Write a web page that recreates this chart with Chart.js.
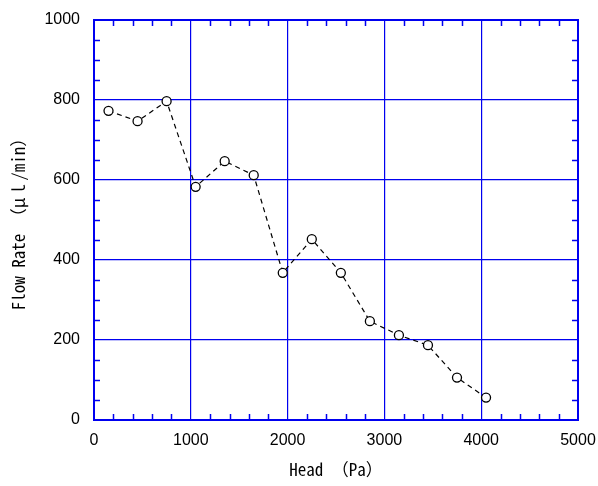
<!DOCTYPE html>
<html>
<head>
<meta charset="utf-8">
<script src="https://cdn.jsdelivr.net/npm/chart.js@4/dist/chart.umd.min.js"></script>
<style>
html,body{margin:0;padding:0;background:#fff;}
#wrap{width:598px;height:486px;position:relative;}
</style>
</head>
<body>
<div id="wrap"><canvas id="c" width="598" height="486"></canvas></div>
<script>
const headPa = [150, 450, 750, 1050, 1350, 1650, 1950, 2250, 2550, 2850, 3150, 3450, 3750, 4050];
const flowRate = [773, 747, 797, 583, 647, 612, 368, 452, 368, 247, 212, 187, 106, 56];
const xTicks = [0, 1000, 2000, 3000, 4000, 5000];
const yTicks = [0, 200, 400, 600, 800, 1000];
const xTitle = 'Head （Pa）';
const yTitle = 'Flow Rate （μｌ/min）';

const BLUE = '#0000f0';
const tickFont = {family: "'Liberation Sans', Arial, sans-serif", size: 16};
const titleFont = {family: "'Noto Sans Mono CJK JP', 'DejaVu Sans Mono', monospace", size: 17};

const frameAndMinor = {
  id: 'frameAndMinor',
  afterDraw(chart) {
    const {ctx, chartArea: a, scales: {x, y}} = chart;
    ctx.save();
    ctx.strokeStyle = BLUE;
    ctx.lineWidth = 1.5;
    ctx.beginPath();
    for (let v = 200; v < 5000; v += 200) {
      if (v % 1000 === 0) continue;
      const px = Math.round(x.getPixelForValue(v)) + 0.5;
      ctx.moveTo(px, a.bottom); ctx.lineTo(px, a.bottom - 6);
      ctx.moveTo(px, a.top); ctx.lineTo(px, a.top + 6);
    }
    for (let v = 50; v < 1000; v += 50) {
      if (v % 200 === 0) continue;
      const py = Math.round(y.getPixelForValue(v)) + 0.5;
      ctx.moveTo(a.left, py); ctx.lineTo(a.left + 6, py);
      ctx.moveTo(a.right, py); ctx.lineTo(a.right - 6, py);
    }
    ctx.stroke();
    ctx.lineWidth = 2;
    ctx.strokeRect(a.left, a.top, a.right - a.left, a.bottom - a.top);
    ctx.restore();
  }
};

new Chart(document.getElementById('c'), {
  type: 'scatter',
  data: {
    datasets: [{
      data: headPa.map((h, i) => ({x: h, y: flowRate[i]})),
      showLine: true,
      borderColor: '#000',
      borderWidth: 1.2,
      borderDash: [5, 4],
      pointRadius: 4.5,
      pointBorderWidth: 1.3,
      pointBorderColor: '#000',
      pointBackgroundColor: '#fff',
      tension: 0
    }]
  },
  options: {
    responsive: false,
    animation: false,
    layout: {padding: {top: 20, right: 20, left: 0, bottom: 0}},
    plugins: {legend: {display: false}, tooltip: {enabled: false}},
    scales: {
      x: {
        type: 'linear', min: 0, max: 5000,
        afterBuildTicks: s => { s.ticks = xTicks.map(v => ({value: v})); },
        afterFit: s => { s.height = 66; s.paddingLeft = 0; s.paddingRight = 0; },
        grid: {color: BLUE, lineWidth: 1.2, drawTicks: false},
        border: {display: false},
        ticks: {color: '#000', font: tickFont, padding: 11, maxRotation: 0, callback: v => String(v)},
        title: {display: true, text: xTitle, color: '#000', font: titleFont, padding: {top: 0, bottom: 6}}
      },
      y: {
        type: 'linear', min: 0, max: 1000,
        afterBuildTicks: s => { s.ticks = yTicks.map(v => ({value: v})); },
        afterFit: s => { s.width = 94; s.paddingTop = 0; s.paddingBottom = 0; },
        grid: {color: BLUE, lineWidth: 1.2, drawTicks: false},
        border: {display: false},
        ticks: {color: '#000', font: tickFont, padding: 14, callback: v => String(v)},
        title: {display: true, text: yTitle, color: '#000', font: titleFont, padding: {top: 8, bottom: 0}}
      }
    }
  },
  plugins: [frameAndMinor]
});
</script>
</body>
</html>
